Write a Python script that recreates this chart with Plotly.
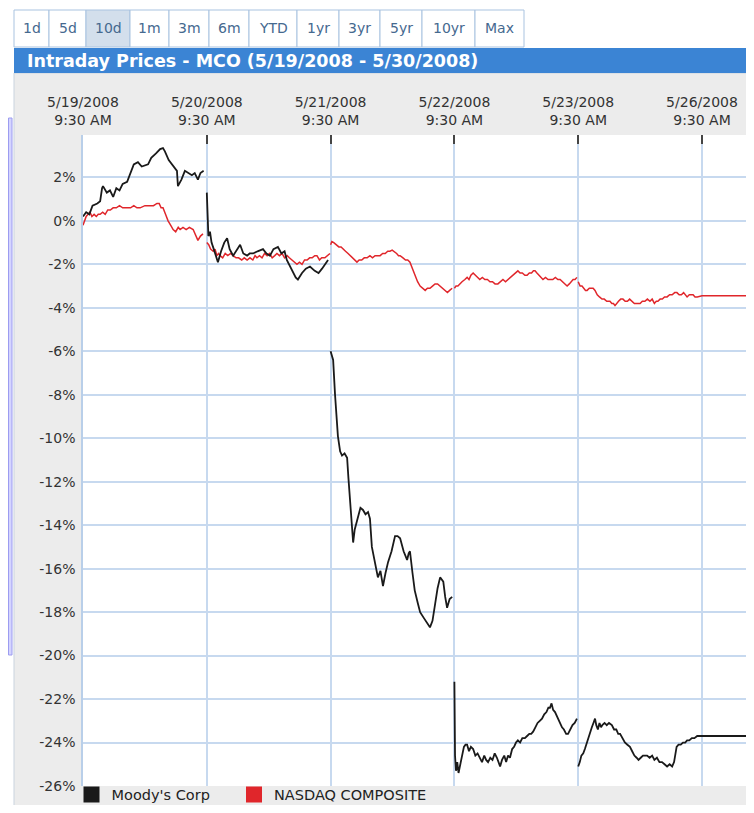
import plotly.graph_objects as go

# ---------------- data ----------------
SESSION_MINUTES = 390  # 9:30 AM -> 4:00 PM
DAY_LABELS = ["5/19/2008", "5/20/2008", "5/21/2008", "5/22/2008", "5/23/2008", "5/26/2008"]
OPEN_LABEL = "9:30 AM"
Y_TICKS = list(range(-26, 3, 2))
TITLE = "Intraday Prices - MCO (5/19/2008 - 5/30/2008)"
RANGE_BUTTONS = ["1d", "5d", "10d", "1m", "3m", "6m", "YTD", "1yr", "3yr", "5yr", "10yr", "Max"]
ACTIVE_BUTTON = "10d"
SERIES_NAMES = ["Moody's Corp", "NASDAQ COMPOSITE"]

# Moody's Corp: (minutes after open, % change)
mco_0519 = [(0, 0.2), (10, 0.4), (20, 0.3), (30, 0.7), (45, 0.8), (54, 0.9), (60, 1.5), (63, 1.6), (75, 1.3),
            (85, 1.4), (95, 1.1), (105, 1.5), (115, 1.4), (125, 1.7), (139, 1.8), (150, 2.2), (160, 2.6),
            (173, 2.7), (185, 2.5), (205, 2.6), (215, 2.9), (230, 3.1), (243, 3.3), (252, 3.35), (258, 3.2),
            (270, 2.8), (285, 2.5), (296, 2.3), (299, 1.6), (310, 1.9), (321, 2.3), (332, 2.2), (343, 2.1),
            (352, 2.2), (362, 1.9), (370, 2.2), (380, 2.3)]
mco_0520 = [(0, 1.3), (3, 0.0), (5, -0.7), (10, -0.5), (15, -1.0), (22, -1.3), (28, -1.6), (35, -1.9), (45, -1.4),
            (55, -1.0), (64, -0.8), (72, -1.3), (83, -1.6), (95, -1.3), (105, -1.1), (115, -1.5), (127, -1.6),
            (135, -1.5), (146, -1.5), (160, -1.4), (177, -1.3), (188, -1.5), (199, -1.6), (210, -1.3), (224, -1.2),
            (235, -1.5), (245, -1.4), (252, -1.8), (265, -2.2), (280, -2.6), (287, -2.7), (300, -2.4), (312, -2.2),
            (325, -2.1), (340, -2.3), (352, -2.4), (363, -2.2), (372, -2.0), (382, -1.8)]
mco_0521 = [(0, -6.0), (5, -6.2), (8, -6.4), (14, -8.0), (20, -9.2), (23, -9.9), (30, -10.6), (36, -10.8),
            (44, -10.7), (52, -10.9), (56, -11.8), (61, -12.7), (66, -13.5), (71, -14.8), (76, -14.2), (81, -13.9),
            (86, -13.6), (94, -13.2), (102, -13.3), (110, -13.5), (118, -13.4), (124, -13.7), (130, -15.0),
            (138, -15.6), (149, -16.4), (157, -16.1), (165, -16.8), (173, -16.2), (181, -15.7), (192, -15.2),
            (203, -14.5), (211, -14.5), (219, -14.6), (230, -15.2), (241, -15.6), (246, -15.3), (250, -15.2),
            (258, -16.2), (265, -17.0), (275, -17.6), (282, -18.0), (295, -18.3), (305, -18.5), (313, -18.7),
            (321, -18.4), (329, -17.6), (337, -16.9), (345, -16.4), (350, -16.5), (355, -16.6), (361, -17.3),
            (367, -17.8), (375, -17.4), (383, -17.3)]
mco_0522 = [(0, -21.2), (2, -24.6), (5, -25.3), (9, -24.9), (13, -25.4), (18, -25.0), (24, -24.5), (30, -24.2),
            (35, -24.1), (40, -24.1), (46, -24.4), (52, -24.2), (59, -24.3), (66, -24.6), (73, -24.5), (80, -24.7),
            (87, -24.9), (94, -24.6), (100, -24.8), (106, -24.9), (113, -24.7), (120, -24.8), (127, -24.5),
            (134, -24.7), (140, -24.9), (144, -25.1), (150, -24.8), (157, -24.6), (163, -24.9), (169, -24.6),
            (175, -24.7), (182, -24.3), (188, -24.2), (194, -24.0), (200, -23.9), (207, -24.0), (214, -23.8),
            (222, -23.8), (229, -23.7), (236, -23.6), (242, -23.6), (248, -23.5), (255, -23.3), (262, -23.1),
            (269, -23.0), (276, -22.9), (283, -22.7), (290, -22.6), (296, -22.4), (301, -22.4), (306, -22.2),
            (311, -22.5), (317, -22.6), (323, -22.8), (330, -23.0), (339, -23.3), (345, -23.4), (352, -23.6),
            (358, -23.6), (365, -23.4), (372, -23.2), (379, -23.1), (386, -22.9)]
mco_0523 = [(0, -25.1), (5, -24.9), (10, -24.6), (16, -24.5), (21, -24.3), (27, -24.0), (32, -23.8), (37, -23.6),
            (43, -23.3), (48, -23.1), (53, -22.9), (57, -23.2), (62, -23.4), (67, -23.1), (72, -23.3), (76, -23.2),
            (83, -23.1), (90, -23.2), (97, -23.1), (106, -23.2), (113, -23.4), (120, -23.4), (126, -23.6),
            (132, -23.6), (140, -23.8), (147, -24.0), (155, -24.1), (163, -24.2), (170, -24.4), (177, -24.6),
            (184, -24.7), (190, -24.8), (197, -24.7), (204, -24.6), (211, -24.6), (217, -24.6), (225, -24.7),
            (233, -24.6), (240, -24.8), (248, -24.7), (256, -24.9), (264, -24.9), (272, -25.0), (280, -25.1),
            (288, -25.0), (296, -25.1), (302, -24.9), (306, -24.5), (310, -24.2), (316, -24.1), (323, -24.1),
            (330, -24.0), (337, -24.0), (343, -23.9), (350, -23.9), (358, -23.8), (366, -23.8), (375, -23.7)]
mco_0526 = [(0, -23.7), (390, -23.7)]

# NASDAQ Composite: (minutes after open, % change)
ndx_0519 = [(0, -0.2), (5, 0.0), (10, 0.2), (16, 0.3), (22, 0.4), (28, 0.2), (35, 0.3), (42, 0.2), (48, 0.3),
            (54, 0.3), (62, 0.4), (70, 0.3), (78, 0.5), (86, 0.5), (95, 0.6), (105, 0.6), (115, 0.7), (125, 0.6),
            (139, 0.6), (150, 0.6), (160, 0.7), (170, 0.6), (180, 0.6), (195, 0.7), (210, 0.7), (222, 0.7),
            (233, 0.8), (240, 0.8), (246, 0.6), (252, 0.6), (260, 0.3), (268, 0.0), (276, -0.2), (284, -0.4),
            (292, -0.5), (300, -0.3), (306, -0.4), (315, -0.3), (325, -0.4), (335, -0.3), (347, -0.4),
            (355, -0.7), (362, -0.9), (370, -0.7), (378, -0.6)]
ndx_0520 = [(0, -1.0), (6, -1.1), (12, -1.3), (20, -1.4), (26, -1.3), (32, -1.6), (37, -1.5), (42, -1.6),
            (50, -1.7), (58, -1.5), (66, -1.6), (75, -1.5), (83, -1.6), (92, -1.7), (100, -1.7), (110, -1.8),
            (118, -1.7), (127, -1.8), (136, -1.7), (145, -1.8), (152, -1.6), (158, -1.7), (166, -1.6), (174, -1.7),
            (182, -1.5), (190, -1.6), (198, -1.5), (206, -1.7), (214, -1.6), (221, -1.5), (229, -1.6), (237, -1.5),
            (245, -1.7), (253, -1.6), (260, -1.7), (268, -1.8), (276, -1.9), (284, -2.0), (292, -1.9), (300, -2.0),
            (308, -1.8), (316, -1.8), (324, -1.7), (332, -1.7), (340, -1.6), (347, -1.6), (355, -1.8), (362, -1.7),
            (372, -1.7), (380, -1.6), (388, -1.5)]
ndx_0521 = [(0, -1.1), (4, -0.95), (10, -1.0), (18, -1.1), (26, -1.2), (33, -1.2), (39, -1.3), (47, -1.4),
            (55, -1.5), (62, -1.6), (70, -1.7), (77, -1.8), (83, -1.9), (90, -1.8), (98, -1.8), (106, -1.7),
            (115, -1.7), (124, -1.6), (132, -1.7), (140, -1.6), (148, -1.6), (156, -1.6), (164, -1.5), (172, -1.5),
            (180, -1.4), (187, -1.4), (194, -1.35), (200, -1.4), (208, -1.5), (214, -1.6), (219, -1.6), (228, -1.7),
            (236, -1.8), (243, -1.8), (250, -1.9), (258, -2.2), (266, -2.5), (274, -2.8), (282, -3.0), (290, -3.1),
            (298, -3.2), (305, -3.1), (313, -3.1), (321, -3.0), (329, -2.9), (337, -2.9), (345, -3.0), (352, -3.1),
            (360, -3.2), (368, -3.3), (375, -3.2), (383, -3.1)]
ndx_0522 = [(0, -3.1), (5, -3.0), (11, -3.0), (17, -2.9), (24, -2.8), (33, -2.7), (40, -2.6), (46, -2.7),
            (52, -2.5), (59, -2.4), (66, -2.5), (73, -2.6), (80, -2.7), (88, -2.6), (96, -2.7), (104, -2.7),
            (112, -2.8), (120, -2.8), (128, -2.9), (137, -2.9), (145, -2.8), (153, -2.7), (161, -2.8), (169, -2.7),
            (177, -2.6), (185, -2.5), (192, -2.4), (200, -2.3), (207, -2.4), (214, -2.4), (222, -2.5), (229, -2.5),
            (236, -2.4), (243, -2.4), (249, -2.3), (254, -2.3), (260, -2.4), (266, -2.5), (272, -2.6), (279, -2.7),
            (287, -2.6), (295, -2.7), (302, -2.7), (310, -2.7), (318, -2.6), (326, -2.7), (333, -2.7), (340, -2.8),
            (348, -2.9), (355, -3.0), (362, -2.9), (368, -2.8), (374, -2.7), (380, -2.7), (386, -2.6)]
ndx_0523 = [(0, -2.8), (6, -3.0), (12, -3.0), (18, -3.1), (23, -3.2), (28, -3.2), (35, -3.1), (41, -3.1),
            (47, -3.1), (53, -3.2), (60, -3.4), (67, -3.5), (75, -3.6), (82, -3.6), (90, -3.7), (96, -3.7),
            (100, -3.7), (106, -3.8), (111, -3.8), (116, -3.9), (121, -3.8), (127, -3.7), (134, -3.6), (141, -3.6),
            (148, -3.7), (155, -3.7), (162, -3.6), (170, -3.7), (177, -3.8), (184, -3.8), (190, -3.8), (195, -3.8),
            (202, -3.7), (210, -3.7), (218, -3.6), (226, -3.7), (233, -3.6), (240, -3.8), (246, -3.7), (251, -3.7),
            (258, -3.6), (265, -3.6), (272, -3.5), (280, -3.5), (288, -3.4), (296, -3.4), (304, -3.3), (311, -3.3),
            (318, -3.4), (325, -3.4), (332, -3.3), (338, -3.4), (343, -3.5), (350, -3.4), (356, -3.4), (362, -3.4),
            (368, -3.5), (375, -3.5)]
ndx_0526 = [(0, -3.45), (390, -3.45)]

MCO_SESSIONS = [mco_0519, mco_0520, mco_0521, mco_0522, mco_0523, mco_0526]
NDX_SESSIONS = [ndx_0519, ndx_0520, ndx_0521, ndx_0522, ndx_0523, ndx_0526]
# does the line break after each session?
MCO_BREAKS = [True, True, True, True, False]
NDX_BREAKS = [True, True, True, True, False]

COLORS = ["#1a1a1a", "#e0262b"]


def build(sessions, breaks):
    xs, ys = [], []
    for i, sess in enumerate(sessions):
        for minute, pct in sess:
            xs.append(i + minute / SESSION_MINUTES)
            ys.append(pct)
        if i < len(sessions) - 1 and breaks[i]:
            xs.append(None)
            ys.append(None)
    return xs, ys


# ---------------- layout geometry ----------------
# the page body has an 8px margin; figure sized so nothing overflows the 754x813 window
OFF = 8
W, H = 754 - OFF, 813 - 2 * OFF
L, T = 83 - OFF, 135 - OFF          # plot area left/top in figure px
PLOT_BOTTOM = 786 - OFF
R, B = 0, H - PLOT_BOTTOM
PW, PH = W - L - R, H - T - B
PX_PER_DAY = 123.8
X_MAX = PW / PX_PER_DAY


def px_x(sx):  # screen px -> paper
    return (sx - OFF - L) / PW


def px_y(sy):
    return (PLOT_BOTTOM - (sy - OFF)) / PH


FONT = "DejaVu Sans"
GRID = "#c7d9ef"
TXT = "#333333"

fig = go.Figure()
line_widths = [1.8, 1.5]
for name, sessions, breaks, color, lw in zip(SERIES_NAMES, [MCO_SESSIONS, NDX_SESSIONS],
                                             [MCO_BREAKS, NDX_BREAKS], COLORS, line_widths):
    xs, ys = build(sessions, breaks)
    fig.add_trace(go.Scatter(x=xs, y=ys, mode="lines", line=dict(color=color, width=lw),
                             showlegend=False, hoverinfo="skip", name=name))
# NASDAQ below Moody's
fig.data = (fig.data[1], fig.data[0])

# legend entries (square swatches), one legend each for exact placement
for name, color, leg in zip(SERIES_NAMES, COLORS, ["legend", "legend2"]):
    fig.add_trace(go.Scatter(x=[None], y=[None], mode="markers", name=name, legend=leg,
                             marker=dict(symbol="square", size=16, color=color)))

shapes = []
shapes.append(dict(type="rect", xref="paper", yref="paper", x0=px_x(14), x1=px_x(760), y0=px_y(812),
                   y1=px_y(73), fillcolor="#ececec", line=dict(color="#c9d3de", width=1), layer="below"))
shapes.append(dict(type="rect", xref="paper", yref="paper", x0=0, x1=1.01, y0=0, y1=1,
                   fillcolor="white", line=dict(width=0), layer="below"))
shapes.append(dict(type="rect", xref="paper", yref="paper", x0=px_x(14), x1=px_x(760), y0=px_y(73),
                   y1=px_y(48), fillcolor="#3b84d4", line=dict(width=0), layer="below"))
shapes.append(dict(type="rect", xref="paper", yref="paper", x0=px_x(8.5), x1=px_x(12), y0=px_y(655),
                   y1=px_y(118), fillcolor="#d4d4ff", line=dict(color="#9c9cf0", width=1), layer="below"))

annotations = []
BTN_EDGES = [14, 49, 86, 130, 169, 209, 249, 297, 339, 380, 422, 475, 524]
for i, label in enumerate(RANGE_BUTTONS):
    x0, x1 = BTN_EDGES[i], BTN_EDGES[i + 1]
    active = label == ACTIVE_BUTTON
    shapes.append(dict(type="rect", xref="paper", yref="paper", x0=px_x(x0), x1=px_x(x1), y0=px_y(47),
                       y1=px_y(10), fillcolor="#d3dfec" if active else "white",
                       line=dict(color="#a9c3e0", width=1), layer="below"))
    annotations.append(dict(text=label, xref="paper", yref="paper", x=px_x((x0 + x1) / 2), y=px_y(28),
                            xanchor="center", yanchor="middle", showarrow=False,
                            font=dict(family=FONT, size=14, color="#45698f")))

annotations.append(dict(text="<b>" + TITLE + "</b>", xref="paper", yref="paper", x=px_x(25), y=px_y(61),
                        xanchor="left", yanchor="middle", showarrow=False,
                        font=dict(family=FONT, size=17.5, color="white")))

LEG_FONT = dict(family=FONT, size=14.5, color="#222")
fig.update_layout(
    width=W, height=H,
    margin=dict(l=L, r=R, t=T, b=B, pad=0, autoexpand=False),
    paper_bgcolor="white", plot_bgcolor="white",
    shapes=shapes, annotations=annotations,
    showlegend=True,
    legend=dict(orientation="h", x=px_x(71.5), y=px_y(794.5), xanchor="left", yanchor="middle",
                bgcolor="rgba(0,0,0,0)", font=LEG_FONT, itemsizing="trace"),
    legend2=dict(orientation="h", x=px_x(234), y=px_y(794.5), xanchor="left", yanchor="middle",
                 bgcolor="rgba(0,0,0,0)", font=LEG_FONT, itemsizing="trace"),
    xaxis=dict(range=[0, X_MAX], side="top", tickmode="array",
               tickvals=list(range(len(DAY_LABELS))),
               ticktext=[d + "<br>" + OPEN_LABEL for d in DAY_LABELS],
               ticks="inside", ticklen=9, tickwidth=2, tickcolor="#444",
               showgrid=True, gridcolor=GRID, gridwidth=1.5, zeroline=False, showline=False,
               tickfont=dict(family=FONT, size=14, color=TXT), ticklabelstandoff=6, fixedrange=True),
    yaxis=dict(range=[-26, 3.95], tickmode="array", tickvals=Y_TICKS,
               ticktext=[f"{v}%" for v in Y_TICKS], ticks="",
               showgrid=True, gridcolor=GRID, gridwidth=1.5, zeroline=False,
               showline=True, linecolor="#b9cfe9", linewidth=1.5,
               tickfont=dict(family=FONT, size=14, color=TXT), ticklabelstandoff=3, fixedrange=True),
)

fig.write_html("out.html")
